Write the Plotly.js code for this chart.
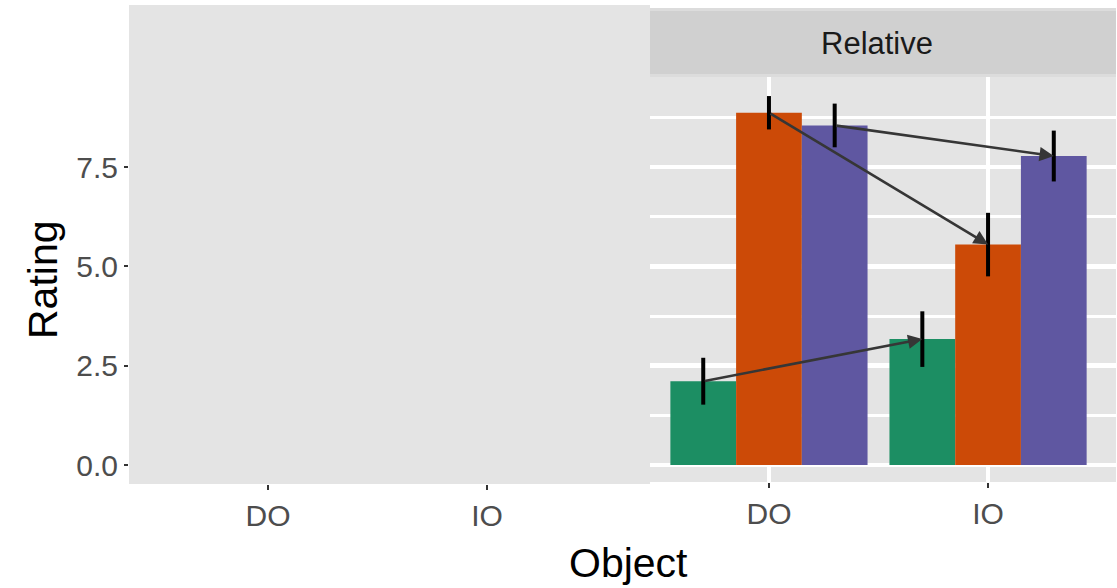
<!DOCTYPE html>
<html>
<head>
<meta charset="utf-8">
<script src="https://cdn.plot.ly/plotly-3.0.1.min.js"></script>
<style>html,body{margin:0;padding:0;background:#fff;}#chart{width:1117px;height:588px;}</style>
</head>
<body>
<div id="chart"></div>
<script>
// ---- data ----
const categories = ['DO', 'IO'];
const seriesNames = ['Group 1', 'Group 2', 'Group 3'];
const greenVals = [2.11, 3.17];
const greenErr = [0.59, 0.70];
const orangeVals = [8.87, 5.55];
const orangeErr = [0.42, 0.80];
const purpleVals = [8.55, 7.78];
const purpleErr = [0.55, 0.64];
const yTickVals = [0, 2.5, 5, 7.5];
const yTickText = ['0.0', '2.5', '5.0', '7.5'];
const stripLabel = 'Relative';
const xTitle = 'Object';
const yTitle = 'Rating';

// ---- styling / layout helpers ----
const W = 1117, H = 588;
const px = v => v / W;           // pixel -> paper x
const py = v => 1 - v / H;       // pixel -> paper y
const colors = ['#1c8e63', '#cc4a07', '#5f57a1'];
const values = [greenVals, orangeVals, purpleVals];
const errors = [greenErr, orangeErr, purpleErr];
const dodge = 0.3;
const catPos = categories.map((c, i) => i + 1);
const font = 'Liberation Sans, Arial, sans-serif';

const traces = [];
// invisible trace so the left (empty) panel exists
traces.push({x: catPos, y: catPos.map(() => null), xaxis: 'x', yaxis: 'y',
  type: 'scatter', mode: 'markers', showlegend: false, hoverinfo: 'skip'});

values.forEach((vals, j) => {
  traces.push({
    type: 'bar', name: seriesNames[j], xaxis: 'x2', yaxis: 'y2',
    x: catPos.map(p => p + (j - 1) * dodge),
    y: vals, width: dodge,
    marker: {color: colors[j], line: {width: 0}},
    error_y: {type: 'data', array: errors[j], visible: true, color: '#000', thickness: 4, width: 0},
    showlegend: false
  });
});

const annotations = [];
values.forEach((vals, j) => {
  const off = (j - 1) * dodge;
  annotations.push({
    xref: 'x2', yref: 'y2', axref: 'x2', ayref: 'y2',
    x: catPos[1] + off, y: vals[1], ax: catPos[0] + off, ay: vals[0],
    text: '', showarrow: true, arrowhead: 2, arrowsize: 1.1, arrowwidth: 2.6,
    arrowcolor: '#363636', standoff: 0, startstandoff: 0
  });
});
annotations.push({xref: 'paper', yref: 'paper', x: px(877), y: py(43), text: stripLabel,
  showarrow: false, xanchor: 'center', yanchor: 'middle', font: {family: font, size: 31, color: '#1a1a1a'}});
annotations.push({xref: 'paper', yref: 'paper', x: px(628), y: py(563), text: xTitle,
  showarrow: false, xanchor: 'center', yanchor: 'middle', font: {family: font, size: 41, color: '#000'}});
annotations.push({xref: 'paper', yref: 'paper', x: px(43), y: py(280), text: yTitle, textangle: -90,
  showarrow: false, xanchor: 'center', yanchor: 'middle', font: {family: font, size: 41, color: '#000'}});

const tickFont = {family: font, size: 30, color: '#4d4d4d'};

const layout = {
  width: W, height: H,
  margin: {l: 0, r: 0, t: 0, b: 0, pad: 0},
  paper_bgcolor: '#ffffff', plot_bgcolor: '#e4e4e4',
  barmode: 'overlay', showlegend: false,
  xaxis: {domain: [px(129), px(650)], range: [0.365, 2.744], anchor: 'y',
    tickvals: catPos, ticktext: categories, ticks: 'outside', ticklen: 5, tickwidth: 2, tickcolor: '#333',
    showgrid: false, zeroline: false, showline: false, tickfont: tickFont, fixedrange: true},
  yaxis: {domain: [py(484), py(5)], range: [-0.478, 11.58], anchor: 'x',
    tickvals: yTickVals, ticktext: yTickText, ticks: 'outside', ticklen: 4, tickwidth: 2, tickcolor: '#333',
    showgrid: false, zeroline: false, showline: false, tickfont: tickFont, fixedrange: true},
  xaxis2: {domain: [px(650), px(1116)], range: [0.457, 2.584], anchor: 'y2',
    tickvals: catPos, ticktext: categories, ticks: 'outside', ticklen: 5, tickwidth: 2, tickcolor: '#333',
    showgrid: true, gridcolor: '#ffffff', gridwidth: 4.5, zeroline: false, showline: false,
    tickfont: tickFont, fixedrange: true},
  yaxis2: {domain: [py(482), py(77)], range: [-0.428, 9.77], anchor: 'x2',
    tick0: 0, dtick: 2.5, showticklabels: false, ticks: '',
    showgrid: true, gridcolor: '#ffffff', gridwidth: 4.5, zeroline: false, showline: false,
    minor: {dtick: 1.25, tick0: 0, showgrid: true, gridcolor: '#ffffff', gridwidth: 3},
    fixedrange: true},
  shapes: [
    {type: 'rect', xref: 'paper', yref: 'paper', x0: px(650), x1: px(1116), y0: py(77), y1: py(8),
      fillcolor: '#dcdcdc', line: {width: 0}, layer: 'below'},
    {type: 'rect', xref: 'paper', yref: 'paper', x0: px(650), x1: px(1116), y0: py(74), y1: py(11),
      fillcolor: '#d0d0d0', line: {width: 0}, layer: 'below'}
  ],
  annotations: annotations
};

Plotly.newPlot('chart', traces, layout, {displayModeBar: false, staticPlot: true});
</script>
</body>
</html>
